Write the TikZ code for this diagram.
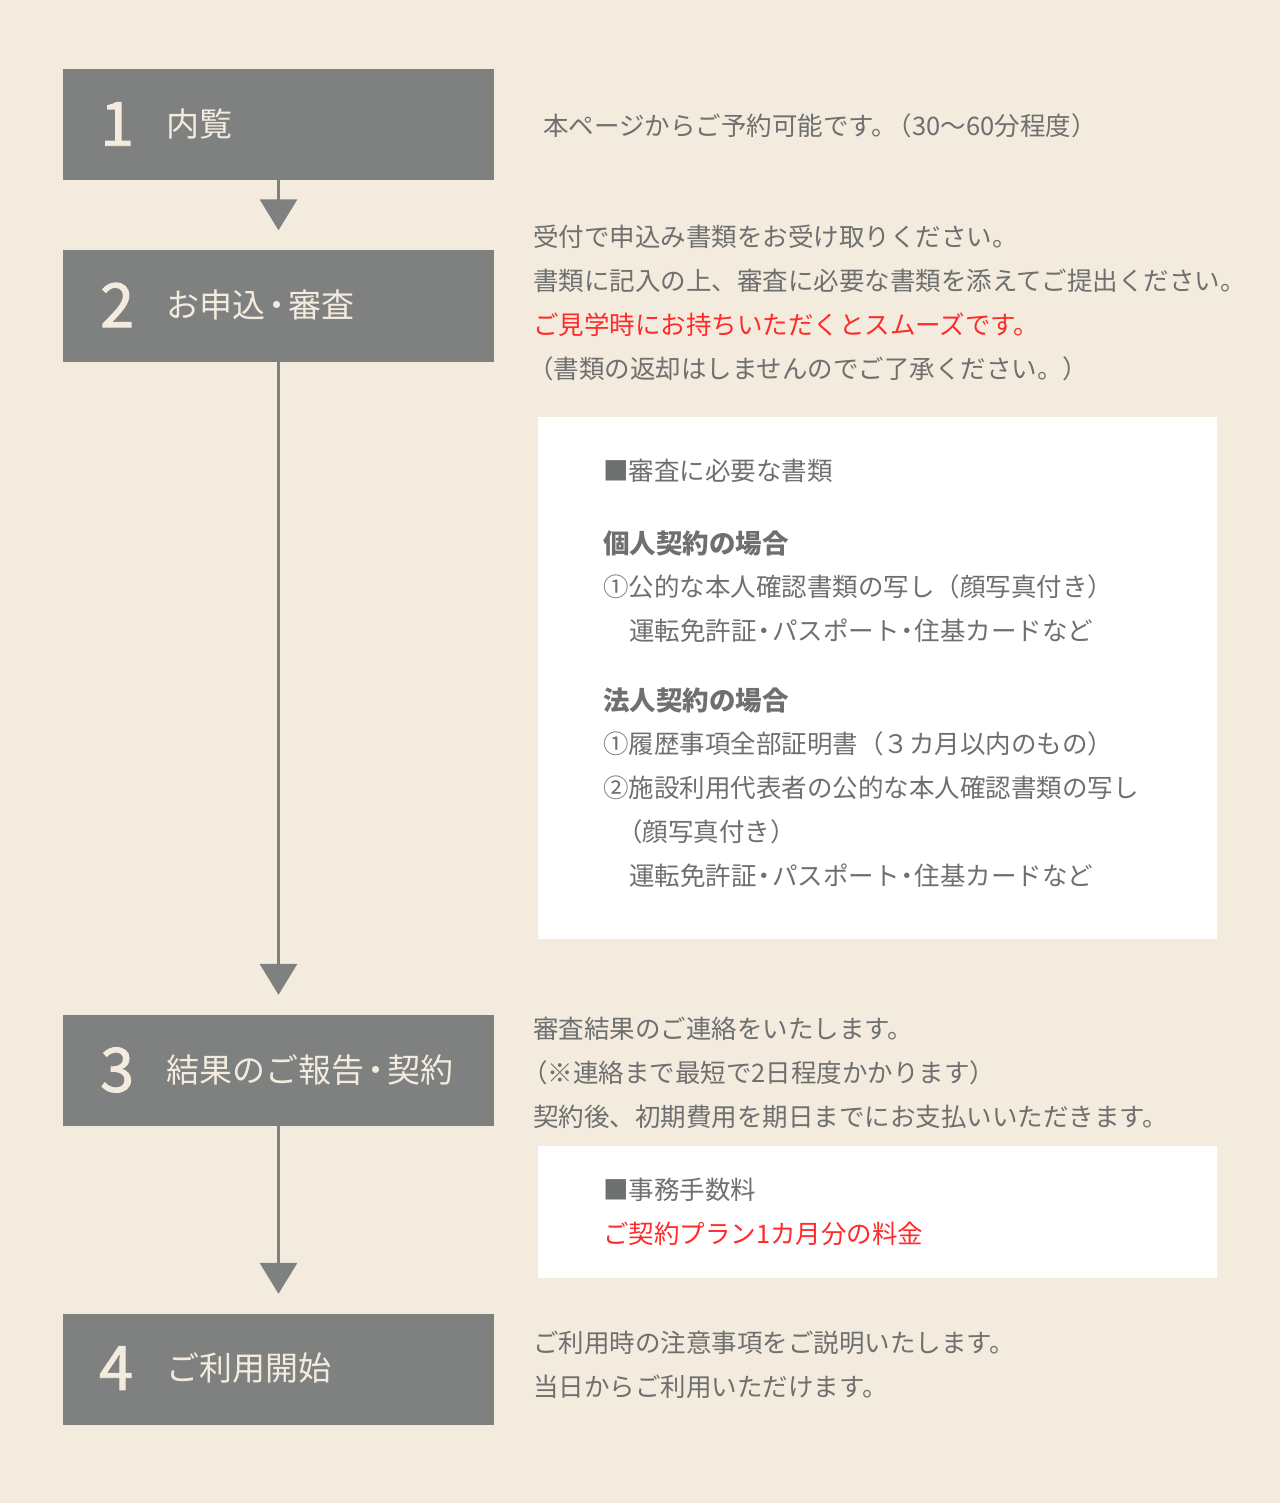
\documentclass[tikz,border=0pt]{standalone}
\usepackage{fontspec}
\setmainfont{Noto Sans CJK JP}
\newfontfamily\stepfont[FakeBold=1.6]{Noto Sans CJK JP}
\usetikzlibrary{arrows.meta,positioning}

\definecolor{paper}{HTML}{F3EBDD}
\definecolor{boxgray}{HTML}{7F8080}
\definecolor{cream}{HTML}{F3ECDE}
\definecolor{ink}{HTML}{6E6F6F}
\definecolor{alert}{HTML}{FF2A2A}

% narrow middle dot and tight bracket after a full stop
\newcommand{\dotsep}[1][0.2em]{\kern-#1・\kern-#1}
\newcommand{\tightpar}{\kern-0.4em}

\begin{document}
\begin{tikzpicture}[
  x=1pt, y=-1pt,
  stepbox/.style={fill=boxgray, minimum width=431pt, minimum height=111pt, inner sep=0pt},
  num/.style={anchor=west, inner sep=0pt, text=cream, font=\fontsize{61}{61}\selectfont\stepfont},
  ttl/.style={anchor=west, inner sep=0pt, text=cream, font=\fontsize{33}{33}\selectfont},
  note/.style={anchor=west, inner sep=0pt, text=ink, font=\fontsize{25.5}{30}\selectfont},
  head/.style={note, font=\fontsize{26.5}{30}\selectfont\bfseries},
  hot/.style={note, text=alert},
  card/.style={fill=white, inner sep=0pt, minimum width=679pt},
  flow/.style={line width=3.5pt, draw=boxgray, shorten >=20pt,
    -{Triangle[width=37pt,length=31pt]}}
]
% background, fixes the page size
\fill[paper] (0,0) rectangle (1280,1503);

% steps
\node[stepbox] (s1) at (278.5,124.5) {};
\node[stepbox] (s2) at (278.5,306) {};
\node[stepbox] (s3) at (278.5,1070.5) {};
\node[stepbox] (s4) at (278.5,1369.5) {};

\node[num] (n1) at (100,124) {1};
\node[num] (n2) at (100,305) {2};
\node[num] (n3) at (100,1070) {3};
\node[num] (n4) at (99,1368) {4};

\node[ttl] (l1) at (166,124) {内覧};
\node[ttl] (l2) at (166,305) {お申込\dotsep[0.15em]審査};
\node[ttl] (l3) at (166,1070) {結果のご報告\dotsep[0.15em]契約};
\node[ttl] (l4) at (166,1368) {ご利用開始};

\draw[flow] (s1) -- (s2);
\draw[flow] (s2) -- (s3);
\draw[flow] (s3) -- (s4);

% step 1
\node[note] (a1) at (543,126) {本ページからご予約可能です。\tightpar（30〜60分程度）};

% step 2
\node[note] (b1) at (533,237) {受付で申込み書類をお受け取りください。};
\node[note] (b2) at (533,281) {書類に記入の上、審査に必要な書類を添えてご提出ください。};
\node[hot]  (b3) at (533,325) {ご見学時にお持ちいただくとスムーズです。};
\node[note] (b4) at (528,369) {（書類の返却はしませんのでご了承ください。）};

\node[card, anchor=north west, minimum height=522pt] (docs) at (538,417) {};
\node[note] (c1) at (603,471) {■審査に必要な書類};
\node[head] (c2) at (603,543) {個人契約の場合};
\node[note] (c3) at (603,587) {①公的な本人確認書類の写し（顔写真付き）};
\node[note] (c4) at (629,631) {運転免許証\dotsep パスポート\dotsep 住基カードなど};
\node[head] (c5) at (603,700) {法人契約の場合};
\node[note] (c6) at (603,744) {①履歴事項全部証明書（３カ月以内のもの）};
\node[note] (c7) at (603,788) {②施設利用代表者の公的な本人確認書類の写し};
\node[note] (c8) at (617,832) {（顔写真付き）};
\node[note] (c9) at (629,876) {運転免許証\dotsep パスポート\dotsep 住基カードなど};

% step 3
\node[note] (d1) at (533,1029) {審査結果のご連絡をいたします。};
\node[note] (d2) at (522,1073) {（※連絡まで最短で2日程度かかります）};
\node[note] (d3) at (533,1117) {契約後、初期費用を期日までにお支払いいただきます。};

\node[card, anchor=north west, minimum height=132pt] (fee) at (538,1146) {};
\node[note] (e1) at (603,1190) {■事務手数料};
\node[hot]  (e2) at (603,1234) {ご契約プラン1カ月分の料金};

% step 4
\node[note] (f1) at (533,1343) {ご利用時の注意事項をご説明いたします。};
\node[note] (f2) at (533,1387) {当日からご利用いただけます。};
\end{tikzpicture}
\end{document}
